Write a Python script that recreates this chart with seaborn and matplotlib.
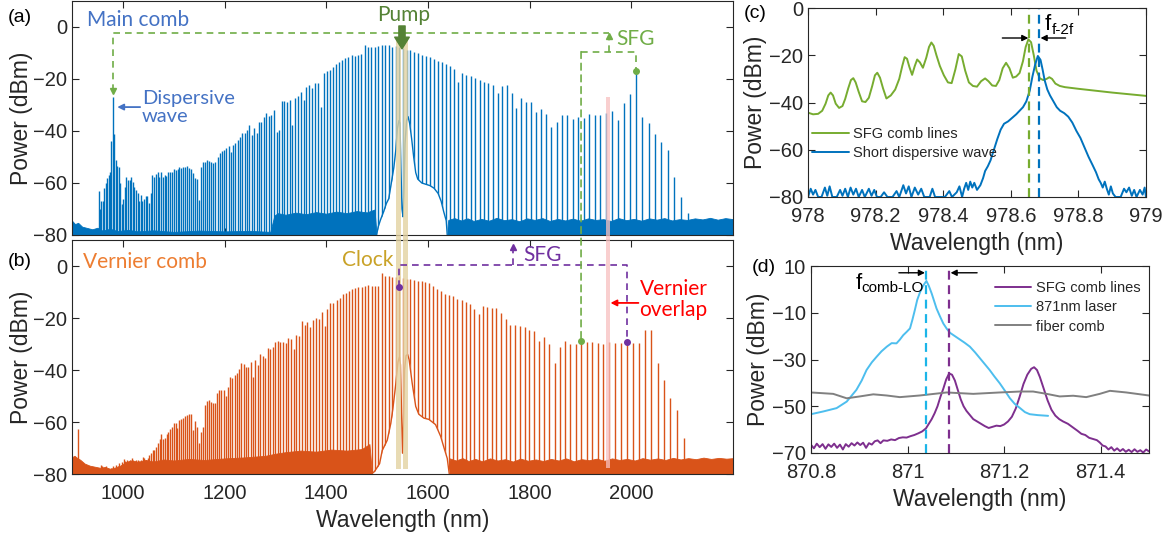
import numpy as np
import pandas as pd
import seaborn as sns
import matplotlib.pyplot as plt
from matplotlib.patches import Rectangle, ConnectionPatch

# ---------------------------------------------------------------- data
C_NM_THZ = 299792.458          # speed of light in nm*THz
pump_thz = 193.29              # pump line (1551 nm)
main_fsr_thz = 0.90
vernier_fsr_thz = 0.89
mode_index = np.arange(135, -58, -1)   # comb mode numbers relative to pump

# peak power of every comb line (dBm), ordered from mode 135 down to mode -57
main_peak_dbm = [
    -63, -70, -67, -67, -62, -60, -58, -57, -55.6, -44,
    -26.8, -41, -51, -53.5, -53.7, -60, -68, -66, -61.4, -57.6,
    -58.8, -58.8, -57.6, -59.5, -61.4, -62.7, -64, -67, -64.6, -67,
    -66, -65, -65, -67.6, -64, -57, -57.8, -56.5, -55.6, -57.8,
    -55.6, -57.8, -57, -57.3, -55.6, -55.6, -55.6, -54.7, -55, -54.7,
    -53.7, -54.4, -53.7, -53.7, -53.5, -54.4, -54.7, -56.3, -58.2, -58.6,
    -66.5, -53.7, -52, -51.8, -51, -51.4, -51.8, -52.4, -51.8, -50,
    -48.3, -47.7, -47.3, -46.7, -45.8, -48, -45.4, -44.5, -43.5, -42.2,
    -40.9, -40.6, -39.6, -37.7, -41.5, -39, -40.9, -36.5, -36.7, -34.5,
    -33.2, -34.2, -33.8, -31.9, -40.3, -39.6, -28.5, -28.5, -28.7, -28,
    -37.7, -27.4, -26.5, -24.9, -28, -23, -22.3, -23.3, -21.7, -21.4,
    -30.9, -17.6, -17.1, -16.5, -15.3, -14.3, -13.5, -12.7, -12.1, -11.4,
    -10.8, -11.3, -10.8, -10.5, -6.9, -7.6, -7.8, -7.6, -7.2, -6.9,
    -7.1, -7.1, -7.6, -7.3, -7.8, -8.2, -8.8, -9.0, -9.7, -10.1,
    -10.8, -11.2, -11.7, -12.4, -13, -13.5, -14.2, -15, -16, -21,
    -17.8, -18.5, -18.8, -19.7, -20.4, -21, -21.4, -22.3, -25.5, -22.7,
    -22.3, -25.5, -31.3, -27.2, -28.7, -28.7, -32.6, -31.7, -33.6, -38.6,
    -36.4, -33.8, -33.8, -35.4, -34.5, -35.1, -33.5, -33.8, -33.8, -33.2,
    -32.3, -35.8, -29.4, -25.9, -16.8, -34.5, -37, -41.3, -44.1, -47.3,
    -57.6, -65.3, -71.7,
]

vernier_peak_dbm = [
    -76.5, -77, -77.5, -78, -77, -78, -78.5, -77.5, -78, -77,
    -78, -76.5, -77, -75.9, -76.5, -75.5, -74.4, -75, -74.6, -75.5,
    -74.6, -74, -74.6, -75, -74.6, -74.6, -75, -74.5, -73.3, -74,
    -74.5, -73.9, -72.5, -72, -70.8, -70.8, -69.5, -68.2, -66.7, -64.7,
    -66.7, -66, -64.7, -64, -62.5, -61.8, -60.5, -60.3, -62.4, -59.2,
    -59, -58.6, -57.6, -57.3, -56.9, -57, -63, -59.5, -61.8, -68,
    -63.7, -61.8, -53.5, -51.8, -51.5, -52.2, -52.5, -52.8, -49, -47.7,
    -47.7, -47.7, -50, -46.4, -42.8, -43.2, -41.9, -41.3, -39.7, -37.4,
    -37.6, -38.7, -39, -36.8, -42.6, -36.2, -38, -33.8, -34.6, -35.5,
    -31.7, -32, -31, -29.1, -28.7, -29.1, -29.1, -29.5, -27.8, -28.1,
    -32, -26.5, -26.8, -21, -22.7, -21.4, -23.3, -20.8, -20.1, -20.4,
    -17.6, -23, -16.7, -14.4, -14.1, -13.1, -12.4, -10.8, -10.5, -9.6,
    -9, -8.6, -8.2, -7.9, -7.7, -7.3, -7.8, -7.6, -7.5, -2.6,
    -3.8, -3.9, -4.1, -4.2, -4.0, -4.5, -5.1, -5.1, -5.4, -5.6,
    -5.6, -6, -6.7, -7.7, -9, -9.6, -10.8, -11.2, -11.6, -12.6,
    -13.1, -14, -14.6, -16.7, -18.5, -15.4, -15.9, -16.3, -16.3, -17.9,
    -20.5, -22.7, -22.7, -23.1, -23.3, -24.6, -24.9, -28.7, -27.4, -30,
    -37.4, -31, -28.7, -30, -30, -28.7, -29.1, -29.3, -29.7, -30,
    -29.1, -29.5, -29.5, -29.1, -29.7, -29.7, -24.6, -24.6, -37.4, -43.8,
    -50.9, -55.4, -66.3,
]

# noise floor of the OSA traces
floor_a_left_nm = [900, 906, 912, 920, 930, 940, 950, 960, 975, 990, 1010, 1030, 1060, 1100, 1150,
                   1200, 1250, 1290, 1298, 1305, 1320, 1340, 1360, 1380, 1400, 1420, 1440, 1460,
                   1480, 1495, 1499]
floor_a_left_dbm = [-74.5, -75.8, -75.3, -76.8, -77.3, -77.8, -77.2, -78.3, -77.6, -78.5, -78.0, -78.6,
                    -78.2, -78.8, -78.3, -78.6, -78.4, -78.8, -72.5, -71.6, -72.2, -71.4, -72.0,
                    -71.2, -71.8, -71.0, -71.6, -70.8, -71.3, -70.2, -80]
floor_a_right_nm = [1637, 1640, 1652, 1665, 1678, 1690, 1705, 1720, 1735, 1750, 1765, 1780, 1795,
                    1810, 1825, 1840, 1855, 1870, 1885, 1900, 1915, 1930, 1945, 1960, 1975, 1990,
                    2005, 2020, 2035, 2050, 2065, 2080, 2095, 2110, 2125, 2140, 2155, 2170, 2185, 2200]
floor_a_right_dbm = [-80, -74.2, -73.5, -74.4, -73.6, -74.6, -73.8, -74.5, -73.4, -74.3, -73.9, -74.7,
                     -73.6, -74.2, -73.5, -74.6, -73.8, -74.4, -73.7, -74.5, -73.6, -74.2, -73.9,
                     -74.6, -73.5, -74.3, -73.8, -74.5, -73.6, -74.1, -73.5, -74.4, -73.9, -74.2,
                     -73.6, -74.0, -73.4, -74.1, -73.5, -73.9]
floor_b_left_nm = [900, 905, 910, 916, 925, 935, 945, 955, 965, 975, 985, 995, 1005, 1015, 1030, 1045,
                   1060, 1080, 1100, 1130, 1160, 1200, 1240, 1280, 1300, 1320, 1350, 1380, 1410,
                   1440, 1470, 1485, 1490]
floor_b_left_dbm = [-73.5, -73.0, -73.8, -74.5, -76.0, -76.8, -77.2, -77.6, -77.3, -78.0, -77.5,
                    -76.8, -75.5, -74.8, -75.3, -74.6, -75.2, -74.4, -74.8, -74.2, -74.6, -74.0,
                    -73.6, -73.0, -72.2, -71.6, -71.0, -71.4, -70.6, -71.0, -70.4, -68.5, -80]
floor_b_right_nm = [1640, 1643, 1655, 1668, 1680, 1693, 1707, 1722, 1737, 1752, 1767, 1782, 1797,
                    1812, 1827, 1842, 1857, 1872, 1887, 1902, 1917, 1932, 1947, 1962, 1977, 1992,
                    2007, 2022, 2037, 2052, 2067, 2082, 2097, 2112, 2127, 2142, 2157, 2172, 2187, 2200]
floor_b_right_dbm = [-80, -74.0, -74.8, -73.9, -75.0, -74.2, -75.1, -74.0, -74.8, -74.3, -75.2,
                     -74.1, -74.9, -74.4, -75.0, -74.2, -74.8, -74.0, -75.1, -74.3, -74.7, -74.1,
                     -74.9, -74.0, -74.6, -74.2, -74.8, -73.9, -74.5, -74.0, -74.6, -73.8, -74.4,
                     -73.9, -74.3, -73.7, -74.2, -73.8, -74.1, -73.9]
vernier_spur_nm = [911]
vernier_spur_dbm = [-62.7]

# filtered pump pedestal
pedestal_a_nm = [1499, 1502, 1507, 1513, 1518, 1523, 1528, 1533, 1537, 1540, 1543, 1545, 1547,
                 1549, 1551, 1553, 1555, 1558, 1561, 1564, 1568, 1572, 1576, 1580, 1588, 1596,
                 1604, 1612, 1620, 1626, 1631, 1636, 1638]
pedestal_a_dbm = [-80, -77, -74, -71, -68, -66, -60, -54, -47, -39, -36, -37, -55, -70, -73, -62,
                  -45, -36, -34.5, -37, -43, -50, -56, -58.5, -60, -60.5, -61, -62, -64, -67, -71,
                  -74.5, -80]
pedestal_b_nm = [1489, 1495, 1505, 1510, 1520, 1527, 1531, 1537, 1541, 1544, 1546, 1548, 1550,
                 1552, 1554, 1557, 1560, 1563, 1569, 1576, 1582, 1592, 1602, 1615, 1625, 1631,
                 1638, 1642]
pedestal_b_dbm = [-80, -79, -76, -71, -67, -60.5, -55, -45, -37, -35, -38, -55, -72, -60, -40,
                  -34.5, -34, -36, -45, -54, -57, -58.5, -59, -61, -65.5, -69.5, -74, -80]

# (c) f-2f beat: SFG comb vs short dispersive wave
sfg_c_nm = [978.000, 978.015, 978.030, 978.042, 978.052, 978.060, 978.067, 978.074, 978.082, 978.092,
            978.102, 978.110, 978.119, 978.127, 978.134, 978.141, 978.150, 978.160, 978.170, 978.180,
            978.190, 978.198, 978.205, 978.213, 978.222, 978.232, 978.245, 978.258, 978.270, 978.279,
            978.286, 978.293, 978.300, 978.308, 978.316, 978.323, 978.331, 978.340, 978.350, 978.358,
            978.365, 978.372, 978.380, 978.390, 978.402, 978.414, 978.425, 978.436, 978.446, 978.455,
            978.465, 978.476, 978.488, 978.500, 978.512, 978.524, 978.534, 978.545, 978.556, 978.566,
            978.576, 978.586, 978.596, 978.606, 978.616, 978.626, 978.636, 978.644, 978.652, 978.660,
            978.668, 978.676, 978.686, 978.696, 978.706, 978.714, 978.722, 978.732, 978.745, 978.760,
            978.800, 978.850, 978.900, 978.950, 979.000]
sfg_c_dbm = [-44.3, -45.0, -44.8, -43.5, -40.5, -37.0, -35.8, -37.0, -40.5, -42.3,
             -41.5, -38.5, -34.0, -30.5, -29.7, -31.5, -35.5, -39.5, -39.8, -38.0,
             -33.0, -28.5, -27.4, -29.5, -34.0, -38.3, -37.0, -34.5, -30.0, -24.5,
             -20.8, -21.5, -25.0, -28.3, -24.5, -21.8, -23.0, -25.3, -21.0, -16.5,
             -14.6, -16.0, -20.0, -24.5, -28.5, -31.5, -31.8, -26.0, -19.5, -20.5,
             -26.5, -31.5, -33.0, -33.3, -31.0, -29.8, -31.0, -32.8, -33.0, -30.5,
             -25.5, -23.2, -25.5, -29.5, -29.0, -27.5, -22.5, -16.5, -13.3, -14.5,
             -20.0, -26.5, -29.8, -30.5, -30.0, -29.3, -30.0, -32.0, -33.0, -33.5,
             -34.2, -35.0, -35.8, -36.5, -37.2]
dw_c_nm = [978.000, 978.008, 978.015, 978.022, 978.030, 978.040, 978.050, 978.057, 978.064, 978.072,
           978.085, 978.095, 978.102, 978.110, 978.118, 978.126, 978.134, 978.142, 978.150, 978.160,
           978.168, 978.180, 978.188, 978.196, 978.204, 978.215, 978.225, 978.235, 978.250, 978.262,
           978.270, 978.282, 978.290, 978.298, 978.306, 978.316, 978.326, 978.335, 978.344, 978.360,
           978.368, 978.376, 978.390, 978.405, 978.418, 978.426, 978.440, 978.448, 978.456, 978.462,
           978.468, 978.474, 978.480, 978.486, 978.492, 978.500, 978.510, 978.518, 978.524, 978.532,
           978.540, 978.550, 978.560, 978.570, 978.580, 978.592, 978.604, 978.616, 978.626, 978.636,
           978.646, 978.656, 978.664, 978.672, 978.680, 978.688, 978.694, 978.700, 978.708, 978.716,
           978.726, 978.736, 978.746, 978.758, 978.770, 978.782, 978.794, 978.806, 978.818, 978.830,
           978.842, 978.852, 978.860, 978.866, 978.872, 978.878, 978.884, 978.890, 978.896, 978.902,
           978.910, 978.925, 978.935, 978.942, 978.950, 978.958, 978.965, 978.972, 978.982, 978.990,
           978.996, 979.000]
dw_c_dbm = [-80, -76.5, -79, -77, -80, -80, -76, -79.5, -75.5, -80,
            -80, -77, -79.5, -76.5, -80, -76, -79, -76.5, -80, -77,
            -80, -76.5, -79.5, -77, -80, -80, -78, -80, -80, -77.5,
            -80, -75, -78.5, -75.5, -80, -76, -79, -76.5, -80, -80,
            -76.5, -80, -80, -80, -77.5, -80, -78, -75.5, -80, -76.5,
            -74, -77, -73.5, -76, -74, -77, -75, -72, -69, -67,
            -64.5, -60, -55.5, -51.5, -49, -48, -46.5, -45, -43.5, -42,
            -39.5, -35, -29, -24, -20.3, -22, -26, -30.5, -34.5, -37,
            -39.5, -42, -43.5, -44.5, -46, -48.5, -52, -55, -59, -63,
            -66.5, -69.5, -72.5, -74, -76, -73.5, -76.5, -79, -75.5, -78.5,
            -80, -80, -76.5, -78, -76, -79.5, -77, -80, -77, -79,
            -76, -80]
sfg_line_c_nm = 978.655
dw_line_c_nm = 978.684

# (d) comb vs 871 nm clock laser
sfg_d_nm = [870.800, 870.806, 870.812, 870.818, 870.824, 870.830, 870.836, 870.842, 870.848, 870.854,
            870.860, 870.866, 870.872, 870.878, 870.884, 870.890, 870.896, 870.902, 870.908, 870.914,
            870.920, 870.926, 870.932, 870.938, 870.944, 870.950, 870.958, 870.966, 870.974, 870.982,
            870.990, 870.998, 871.006, 871.014, 871.022, 871.030, 871.038, 871.044, 871.050, 871.056,
            871.062, 871.068, 871.074, 871.080, 871.086, 871.092, 871.098, 871.104, 871.110, 871.116,
            871.122, 871.128, 871.136, 871.144, 871.152, 871.160, 871.168, 871.176, 871.184, 871.192,
            871.200, 871.208, 871.216, 871.224, 871.232, 871.240, 871.248, 871.256, 871.262, 871.268,
            871.274, 871.282, 871.290, 871.298, 871.306, 871.314, 871.322, 871.332, 871.342, 871.352,
            871.360, 871.368, 871.376, 871.384, 871.392, 871.398, 871.404, 871.410, 871.416, 871.422,
            871.428, 871.434, 871.440, 871.446, 871.452, 871.458, 871.464, 871.470, 871.476, 871.482,
            871.488, 871.494, 871.500]
sfg_d_dbm = [-66.5, -68, -66, -67.5, -66.2, -68.2, -66.3, -67.4, -66, -67.8,
             -66.4, -68.5, -66.2, -67.3, -65.8, -66.8, -65.5, -66.6, -65.6, -67.8,
             -65.8, -66.4, -65, -64.6, -65.8, -64.6, -64.8, -64.2, -64.5, -63.6,
             -63.3, -63.4, -62.8, -62.3, -61.6, -60.8, -59.5, -57.5, -55.5, -53,
             -50, -46, -42.5, -38.5, -36, -36.5, -39, -43, -47, -50,
             -52, -53.5, -55.5, -56.5, -57.5, -58.5, -59.3, -58.8, -58.3, -58.5,
             -57.8, -56.5, -54.5, -51, -46, -40.5, -36.5, -34, -33.3, -34.5,
             -37.5, -42.5, -47.5, -51.5, -54, -55.5, -56.5, -57.5, -59, -60.5,
             -61.8, -62.3, -63.5, -64, -64.5, -65.5, -66.8, -67.2, -68.5, -67.5,
             -69, -68, -69.2, -68.3, -69.5, -68.6, -69.6, -68.4, -69.5, -68.8,
             -69.8, -68.5, -69.3]
laser_d_nm = [870.800, 870.826, 870.853, 870.874, 870.894, 870.905, 870.915, 870.926, 870.936, 870.946,
              870.957, 870.967, 870.977, 870.984, 870.991, 870.998, 871.005, 871.010, 871.015, 871.020,
              871.026, 871.032, 871.039, 871.044, 871.050, 871.055, 871.060, 871.067, 871.074, 871.081,
              871.088, 871.098, 871.108, 871.118, 871.129, 871.140, 871.150, 871.160, 871.170, 871.180,
              871.191, 871.202, 871.212, 871.222, 871.233, 871.243, 871.253, 871.270, 871.291]
laser_d_dbm = [-53.4, -52.2, -50.8, -48.0, -43.0, -39.0, -34.5, -31.2, -28.8, -26.5,
               -24.5, -23.0, -23.1, -21.5, -19.6, -18.2, -16.7, -13.0, -8.9, -4.5,
               -1.1, 1.5, 3.6, 1.5, -1.8, -5.0, -8.2, -11.5, -14.6, -16.8,
               -18.6, -20.0, -21.4, -22.8, -24.5, -27.0, -29.5, -32.0, -34.5, -37.3,
               -40.2, -43.5, -46.6, -49.0, -50.8, -52.5, -53.4, -53.8, -54.1]
fiber_d_nm = [870.800, 870.846, 870.874, 870.901, 870.929, 870.957, 870.984, 871.025, 871.081, 871.136,
              871.191, 871.233, 871.260, 871.288, 871.315, 871.343, 871.370, 871.398, 871.419, 871.453,
              871.500]
fiber_d_dbm = [-44.1, -44.7, -46.6, -45.8, -44.9, -45.4, -46.1, -45.4, -44.1, -44.7,
               -44.1, -43.7, -43.7, -44.7, -45.8, -45.5, -46.1, -44.7, -43.4, -44.1,
               -45.4]
laser_line_d_nm = 871.039
sfg_line_d_nm = 871.086

# ---------------------------------------------------------------- style
sns.set_theme(style="ticks")
plt.rcParams['font.family'] = ['Liberation Sans', 'DejaVu Sans']
plt.rcParams.update({
    'axes.edgecolor': '#262626', 'axes.linewidth': 0.8,
    'xtick.direction': 'in', 'ytick.direction': 'in',
    'xtick.top': True, 'ytick.right': True,
    'xtick.major.size': 5, 'ytick.major.size': 5,
    'xtick.major.width': 0.8, 'ytick.major.width': 0.8,
    'xtick.major.pad': 7.5, 'ytick.major.pad': 3.5,
    'xtick.color': '#262626', 'ytick.color': '#262626',
    'xtick.labelsize': 14.5, 'ytick.labelsize': 14.5,
    'axes.labelsize': 16.5, 'axes.labelcolor': '#262626',
})
ANN = ['Lato', 'DejaVu Sans']

BLUE = '#0072BD'
ORANGE = '#D95319'
GREEN = '#70AD47'
DKGREEN = '#548235'
PURPLE = '#7030A0'
TEXTBLUE = '#4472C4'
TAN = '#E3D2A2'
PINK = '#F7BFBF'

W, H = 1167, 540
fig = plt.figure(figsize=(W / 100, H / 100), dpi=100)
ax_a = fig.add_axes([72 / W, 1 - 235 / H, 661 / W, 234 / H])
ax_b = fig.add_axes([72 / W, 1 - 474 / H, 661 / W, 234 / H])
ax_c = fig.add_axes([808 / W, 1 - 197 / H, 338 / W, 189 / H])
ax_d = fig.add_axes([811 / W, 1 - 453 / H, 338 / W, 187 / H])

main_wl = C_NM_THZ / (pump_thz + main_fsr_thz * mode_index)
vern_wl = C_NM_THZ / (pump_thz + vernier_fsr_thz * mode_index)


def mode(n):
    return 135 - n


def draw_comb(ax, wl, peaks, color, floors, pedestal):
    ax.vlines(wl, -80, peaks, color=color, lw=1.0, zorder=1)
    for fx, fy in floors:
        ax.fill_between(fx, -80, fy, color=color, lw=0.6, edgecolor=color, zorder=1.5)
    px, py = pedestal
    ax.fill_between(px, -80, py, color='white', lw=0, zorder=2)
    sns.lineplot(x=px, y=py, ax=ax, color=color, lw=1.0, legend=False, zorder=2.1,
                 estimator=None, sort=False)
    ax.set_xlim(900, 2200)
    ax.set_ylim(-80, 10)
    ax.set_xticks(range(1000, 2001, 200))
    ax.set_yticks([-80, -60, -40, -20, 0])
    ax.set_ylabel('Power (dBm)')
    ax.yaxis.set_label_coords(-0.059, 0.5)


draw_comb(ax_a, main_wl, main_peak_dbm, BLUE,
          [(floor_a_left_nm, floor_a_left_dbm), (floor_a_right_nm, floor_a_right_dbm)],
          (pedestal_a_nm, pedestal_a_dbm))
draw_comb(ax_b, vern_wl, vernier_peak_dbm, ORANGE,
          [(floor_b_left_nm, floor_b_left_dbm), (floor_b_right_nm, floor_b_right_dbm)],
          (pedestal_b_nm, pedestal_b_dbm))
ax_b.vlines(vernier_spur_nm, -80, vernier_spur_dbm, color=ORANGE, lw=1.0, zorder=1)
ax_a.set_xticklabels([])
ax_a.set_xlabel('')
ax_b.set_xlabel('Wavelength (nm)')

# clock filter bands and Vernier overlap band, running through both panels
fig.canvas.draw()
px_per_db = ax_a.bbox.height / 90.0
gap_db = (ax_a.bbox.y0 - ax_b.bbox.y1) / px_per_db
for x0, x1 in [(1537.8, 1546.5), (1551.0, 1560.2)]:
    ax_a.add_patch(Rectangle((x0, -80 - gap_db), x1 - x0, 75.4 + gap_db, color=TAN, alpha=0.8,
                             lw=0, zorder=3, clip_on=False))
    ax_b.add_patch(Rectangle((x0, -78), x1 - x0, 88, color=TAN, alpha=0.8, lw=0, zorder=3))
x0, x1 = 1949.6, 1958.2
ax_a.add_patch(Rectangle((x0, -80 - gap_db), x1 - x0, 53.2 + gap_db, color=PINK, alpha=0.75,
                         lw=0, zorder=3, clip_on=False))
ax_b.add_patch(Rectangle((x0, -77.7), x1 - x0, 87.7, color=PINK, alpha=0.75, lw=0, zorder=3))

DASH = (0, (4, 3))
# SFG pathway in the main comb
dw_short = main_wl[mode(125)]
dw_long = main_wl[mode(-49)]
left_sfg = vern_wl[mode(-40)]
mid_sfg = 0.5 * (left_sfg + dw_long)
ax_a.plot([dw_short, dw_short, mid_sfg], [-24.5, -2.4, -2.4], color=GREEN, lw=1.2, ls=DASH, zorder=4)
ax_a.plot([dw_short], [-24.5], marker='v', color=GREEN, ms=5, zorder=4)
ax_a.plot([mid_sfg, mid_sfg], [-9.5, -3.6], color=GREEN, lw=1.2, ls=DASH, zorder=4)
ax_a.plot([mid_sfg], [-3.6], marker='^', color=GREEN, ms=5, zorder=4)
ax_a.plot([left_sfg, dw_long, dw_long], [-9.5, -9.5, main_peak_dbm[mode(-49)]],
          color=GREEN, lw=1.2, ls=DASH, zorder=4)
ax_a.plot([dw_long], [main_peak_dbm[mode(-49)]], marker='o', color=GREEN, ms=4, zorder=4)
fig.add_artist(ConnectionPatch(xyA=(left_sfg, -9.5), coordsA=ax_a.transData,
                               xyB=(left_sfg, vernier_peak_dbm[mode(-40)]), coordsB=ax_b.transData,
                               color=GREEN, lw=1.2, ls=DASH, zorder=4))
ax_b.plot([left_sfg], [vernier_peak_dbm[mode(-40)]], marker='o', color=GREEN, ms=4, zorder=4)

# SFG pathway in the Vernier comb
v_left = vern_wl[mode(1)]
v_right = vern_wl[mode(-48)]
v_mid = 0.5 * (v_left + v_right)
ax_b.plot([v_left, v_left, v_right, v_right], [-8, 0.4, 0.4, vernier_peak_dbm[mode(-48)]],
          color=PURPLE, lw=1.2, ls=DASH, zorder=4)
ax_b.plot([v_left, v_right], [-8, vernier_peak_dbm[mode(-48)]], 'o', color=PURPLE, ms=4, zorder=4)
ax_b.plot([v_mid, v_mid], [0.4, 7.4], color=PURPLE, lw=1.2, ls=DASH, zorder=4)
ax_b.plot([v_mid], [7.4], marker='^', color=PURPLE, ms=5, zorder=4)

# text labels on the comb panels
ax_a.text(929, 2.5, 'Main comb', color=TEXTBLUE, fontsize=15, family=ANN, va='center', zorder=5)
ax_a.text(1037, -31, 'Dispersive\nwave', color=TEXTBLUE, fontsize=14.5, family=ANN, va='center',
          linespacing=1.05, zorder=5)
ax_a.annotate('', xy=(989, -30.8), xytext=(1034, -30.8),
              arrowprops=dict(arrowstyle='-|>', color=TEXTBLUE, lw=1.3, mutation_scale=9,
                              shrinkA=0, shrinkB=0), zorder=5)
ax_a.text(1553, 4.6, 'Pump', color=DKGREEN, fontsize=15, family=ANN, ha='center', va='center',
          zorder=5)
ax_a.annotate('', xy=(1549, -8.4), xytext=(1549, 0.4),
              arrowprops=dict(arrowstyle='simple,head_width=0.75,head_length=0.6,tail_width=0.32',
                              color=DKGREEN, mutation_scale=14, shrinkA=0, shrinkB=0), zorder=5)
ax_a.text(1971, -4.6, 'SFG', color=GREEN, fontsize=15, family=ANN, va='center', zorder=5)

ax_b.text(922, 1.5, 'Vernier comb', color='#ED7D31', fontsize=15, family=ANN, va='center', zorder=5)
ax_b.text(1431, 2.3, 'Clock', color='#C9A227', fontsize=15, family=ANN, va='center', zorder=5)
ax_b.text(1787, 4.4, 'SFG', color=PURPLE, fontsize=15, family=ANN, va='center', zorder=5)
ax_b.text(2016, -13, 'Vernier\noverlap', color='#FF0000', fontsize=15, family=ANN, va='center',
          linespacing=1.05, zorder=5)
ax_b.annotate('', xy=(1959, -14.2), xytext=(2014, -14.2),
              arrowprops=dict(arrowstyle='-|>', color='#FF0000', lw=1.3, mutation_scale=9,
                              shrinkA=0, shrinkB=0), zorder=5)

# ---------------------------------------------------------------- (c)
sns.lineplot(x=sfg_c_nm, y=sfg_c_dbm, ax=ax_c, color='#77AC30', lw=1.4, label='SFG comb lines',
             estimator=None, sort=False)
sns.lineplot(x=dw_c_nm, y=dw_c_dbm, ax=ax_c, color=BLUE, lw=1.4, label='Short dispersive wave',
             estimator=None, sort=False)
ax_c.axvline(sfg_line_c_nm, color='#77AC30', lw=1.6, ls=(0, (4, 2.5)))
ax_c.axvline(dw_line_c_nm, color=BLUE, lw=1.6, ls=(0, (4, 2.5)))
ax_c.set_xlim(978, 979)
ax_c.set_ylim(-80, 0)
ax_c.set_xticks([978, 978.2, 978.4, 978.6, 978.8, 979])
ax_c.set_xticklabels(['978', '978.2', '978.4', '978.6', '978.8', '979'])
ax_c.set_yticks([-80, -60, -40, -20, 0])
ax_c.set_xlabel('Wavelength (nm)')
ax_c.set_ylabel('Power (dBm)')
ax_c.yaxis.set_label_coords(-0.121, 0.5)
ax_c.legend(loc='lower left', bbox_to_anchor=(-0.005, 0.165), frameon=False, fontsize=10.5,
            handlelength=2.5, handletextpad=0.3, borderaxespad=0, labelspacing=0.35)
ax_c.annotate('', xy=(978.652, -12.7), xytext=(978.575, -12.7),
              arrowprops=dict(arrowstyle='-|>', color='black', lw=1.0, mutation_scale=9,
                              shrinkA=0, shrinkB=0))
ax_c.annotate('', xy=(978.688, -12.7), xytext=(978.762, -12.7),
              arrowprops=dict(arrowstyle='-|>', color='black', lw=1.0, mutation_scale=9,
                              shrinkA=0, shrinkB=0))
ax_c.text(978.700, -9.3, 'f', fontsize=16, va='baseline', color='black')
ax_c.text(978.722, -10.8, 'f-2f', fontsize=11, va='baseline', color='black')

# ---------------------------------------------------------------- (d)
sns.lineplot(x=sfg_d_nm, y=sfg_d_dbm, ax=ax_d, color='#7E2F8E', lw=1.4, label='SFG comb lines',
             estimator=None, sort=False)
sns.lineplot(x=laser_d_nm, y=laser_d_dbm, ax=ax_d, color='#4DBEEE', lw=1.4, label='871nm laser',
             estimator=None, sort=False)
sns.lineplot(x=fiber_d_nm, y=fiber_d_dbm, ax=ax_d, color='#808080', lw=1.4, label='fiber comb',
             estimator=None, sort=False)
ax_d.axvline(laser_line_d_nm, color='#1CB5E8', lw=1.6, ls=(0, (4, 2.5)))
ax_d.axvline(sfg_line_d_nm, color='#7E2F8E', lw=1.6, ls=(0, (4, 2.5)))
ax_d.set_xlim(870.8, 871.5)
ax_d.set_ylim(-70, 10)
ax_d.set_xticks([870.8, 871.0, 871.2, 871.4])
ax_d.set_xticklabels(['870.8', '871', '871.2', '871.4'])
ax_d.set_yticks([-70, -50, -30, -10, 10])
ax_d.set_xlabel('Wavelength (nm)')
ax_d.set_ylabel('Power (dBm)')
ax_d.yaxis.set_label_coords(-0.121, 0.5)
ax_d.legend(loc='upper right', bbox_to_anchor=(1.0, 0.965), frameon=False, fontsize=10.5,
            handlelength=2.5, handletextpad=0.3, borderaxespad=0.2, labelspacing=0.35)
ax_d.annotate('', xy=(871.036, 7.1), xytext=(870.982, 7.1),
              arrowprops=dict(arrowstyle='-|>', color='black', lw=1.0, mutation_scale=9,
                              shrinkA=0, shrinkB=0))
ax_d.annotate('', xy=(871.089, 7.1), xytext=(871.144, 7.1),
              arrowprops=dict(arrowstyle='-|>', color='black', lw=1.0, mutation_scale=9,
                              shrinkA=0, shrinkB=0))
ax_d.text(870.893, 0.2, 'f', fontsize=16, va='baseline', color='black')
ax_d.text(870.905, -1.2, 'comb-LO', fontsize=11, va='baseline', color='black')

# panel letters
for label, (x, y) in {'(a)': (20, 18), '(b)': (20, 261), '(c)': (755, 14), '(d)': (764, 268)}.items():
    fig.text(x / W, 1 - y / H, label, fontsize=14, ha='center', va='center', color='black')

fig.savefig('out.png', dpi=100)
